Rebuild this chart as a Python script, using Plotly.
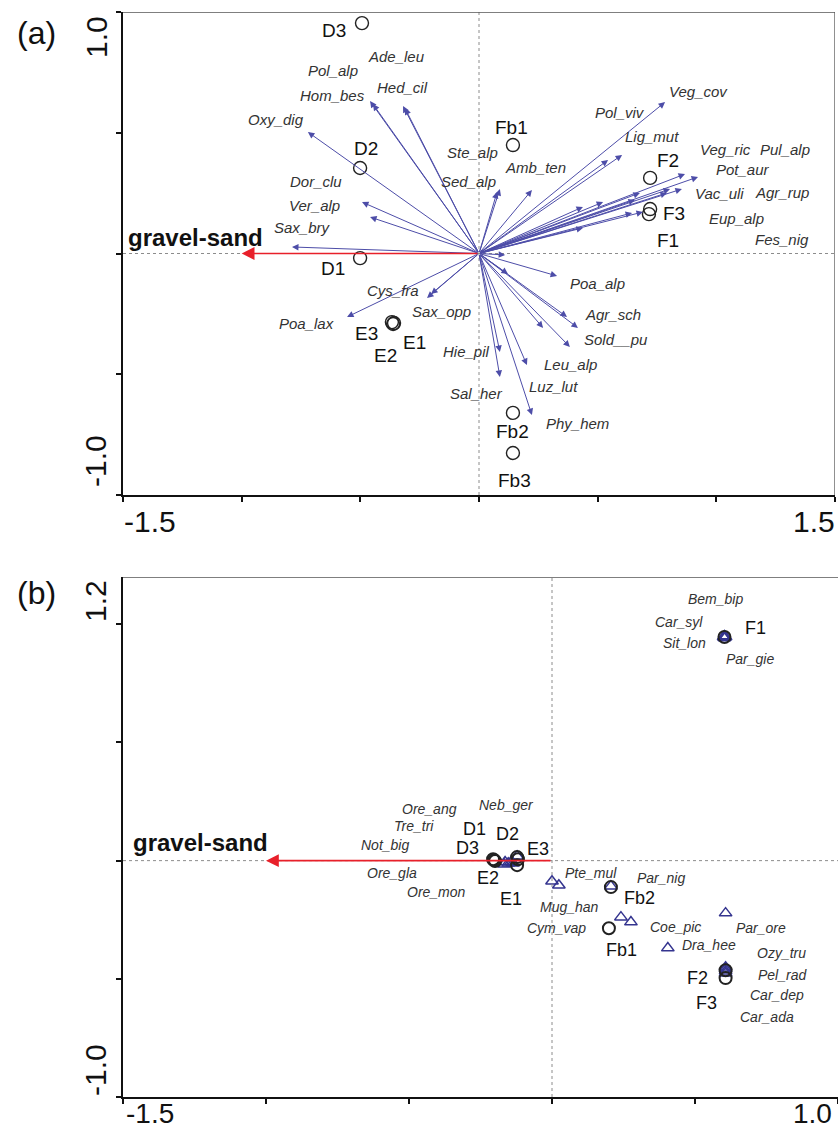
import plotly.graph_objects as go

W, H = 838, 1130

# ---------------- Panel (a) data ----------------
a_species = ["Oxy_dig", "Hom_bes", "Pol_alp", "Hed_cil", "Ade_leu", "Dor_clu", "Ver_alp", "Sax_bry",
             "Ste_alp", "Sed_alp", "Amb_ten", "Veg_cov", "Pol_viv", "Lig_mut", "Veg_ric", "Pot_aur",
             "Pul_alp", "Vac_uli", "Agr_rup", "Eup_alp", "Fes_nig", "Poa_lax", "Cys_fra", "Sax_opp",
             "Poa_alp", "Agr_sch", "Sold__pu", "Leu_alp", "Luz_lut", "Hie_pil", "Sal_her", "Phy_hem"]
a_species_x = [-0.721, -0.447, -0.459, -0.312, -0.320, -0.493, -0.459, -0.788,
               0.076, 0.088, 0.223, 0.784, 0.544, 0.603, 0.868, 0.923,
               0.855, 0.805, 0.792, 0.691, 0.645, -0.556, -0.202, -0.219,
               0.329, 0.417, 0.383, 0.270, 0.202, 0.088, 0.088, 0.223]
a_species_y = [0.503, 0.619, 0.631, 0.602, 0.611, 0.213, 0.151, 0.027,
               0.255, 0.267, 0.263, 0.627, 0.387, 0.408, 0.329, 0.317,
               0.267, 0.267, 0.251, 0.172, 0.168, -0.263, -0.168, -0.184,
               -0.093, -0.308, -0.387, -0.308, -0.462, -0.408, -0.511, -0.669]
# species arrows whose labels are not printed in the figure
a_unlabeled_x = [0.678, 0.657, 0.523, 0.438, 0.438, 0.110, 0.122, 0.371]
a_unlabeled_y = [0.251, 0.222, 0.213, 0.193, 0.106, -0.006, -0.085, -0.263]

a_samples = ["D3", "D2", "D1", "E3", "E2", "E1", "Fb1", "F2", "F3", "F1", "Fb2", "Fb3"]
a_samples_x = [-0.493, -0.501, -0.501, -0.367, -0.362, -0.358, 0.143, 0.721, 0.716, 0.721, 0.143, 0.143]
a_samples_y = [0.954, 0.354, -0.019, -0.284, -0.292, -0.288, 0.449, 0.313, 0.163, 0.184, -0.660, -0.826]

env_name = "gravel-sand"
a_env_x, a_env_y = -1.0, 0.0

# ---------------- Panel (b) data ----------------
b_samples = ["D1", "D3", "E2", "D2", "E3", "E1", "Fb2", "Fb1", "F1", "F2", "F3"]
b_samples_x = [-0.206, -0.199, -0.202, -0.122, -0.119, -0.122, 0.206, 0.199, 0.603, 0.607, 0.607]
b_samples_y = [0.006, -0.002, 0.002, 0.015, 0.006, -0.019, -0.112, -0.286, 0.946, -0.464, -0.497]

b_species = ["Ore_ang", "Tre_tri", "Not_big", "Ore_gla", "Ore_mon", "Neb_ger", "Pte_mul", "Mug_han",
             "Par_nig", "Cym_vap", "Coe_pic", "Par_ore", "Dra_hee", "Bem_bip", "Car_syl", "Sit_lon",
             "Par_gie", "Ozy_tru", "Pel_rad", "Car_dep", "Car_ada"]
b_species_x = [-0.143, -0.153, -0.164, -0.167, -0.136, -0.122, 0.000, 0.024,
               0.206, 0.241, 0.276, 0.607, 0.405, 0.603, 0.600, 0.603,
               0.607, 0.607, 0.607, 0.607, 0.607]
b_species_y = [-0.006, -0.011, -0.006, -0.015, -0.011, 0.019, -0.087, -0.104,
               -0.108, -0.239, -0.260, -0.222, -0.370, 0.950, 0.946, 0.942,
               0.946, -0.451, -0.459, -0.468, -0.476]
b_env_x, b_env_y = -1.0, 0.0

# ---------------- label offsets (pixels, layout only) ----------------
a_species_off = [(-32, -13), (-40, -9), (-37, -31), (-2, -21), (-7, -49), (-46, -21), (-56, -12), (11, -19),
                 (-25, -39), (-31, -8), (4, -22), (33, -11), (12, -48), (30, -18), (40, -25), (45, -7),
                 (103, -40), (49, 4), (115, 0), (93, 7), (150, 27), (-41, 6), (-38, -4), (14, 14),
                 (40, 8), (35, -13), (46, -7), (27, 37), (27, 21), (-33, -1), (-23, 17), (46, 8)]
a_samples_off = [(-28, 7), (6, -20), (-27, 10), (-25, 11), (-8, 31), (20, 19), (-1, -18), (18, -17),
                 (25, -1), (18, 31), (0, 19), (2, 28)]
b_samples_off = [(-19, -30), (-28, -13), (-6, 18), (-10, -23), (20, -10), (-6, 34), (29, 11), (13, 22),
                 (31, -9), (-28, 8), (-19, 25)]
b_species_off = [(-82, -53), (-94, -37), (-120, -17), (-112, 9), (-77, 29), (-11, -51), (39, -8), (11, 22),
                 (50, -8), (-64, 11), (45, 5), (35, 15), (41, -3), (-9, -37), (-45, -15), (-40, 5),
                 (24, 22), (56, -14), (57, 6), (51, 24), (41, 44)]

ARROW = "#4d4da8"
RED = "#e8202a"
NAVY = "#34348f"
FONT = "Liberation Sans, Arial, sans-serif"

fig = go.Figure()

# sample circles / species triangles
fig.add_trace(go.Scatter(x=a_samples_x, y=a_samples_y, mode="markers", xaxis="x", yaxis="y",
                         marker=dict(symbol="circle-open", size=13, color="#222", line=dict(width=1.4)),
                         hoverinfo="skip", showlegend=False))
fig.add_trace(go.Scatter(x=b_species_x, y=b_species_y, mode="markers", xaxis="x2", yaxis="y2",
                         marker=dict(symbol="triangle-up-open", size=11, color=NAVY, line=dict(width=1.5)),
                         hoverinfo="skip", showlegend=False))
fig.add_trace(go.Scatter(x=b_samples_x, y=b_samples_y, mode="markers", xaxis="x2", yaxis="y2",
                         marker=dict(symbol="circle-open", size=12, color="#222", line=dict(width=2)),
                         hoverinfo="skip", showlegend=False))

ann = []
shapes = []

def arrow(x, y, xr, yr, color, width, size):
    ann.append(dict(x=x, y=y, ax=0, ay=0, xref=xr, yref=yr, axref=xr, ayref=yr, text="",
                    showarrow=True, arrowhead=2, arrowsize=size, arrowwidth=width, arrowcolor=color,
                    standoff=0, startstandoff=0))

def label(txt, x, y, xr, yr, off, size, color, italic=False, bold=False):
    t = txt
    if italic:
        t = "<i>" + t + "</i>"
    if bold:
        t = "<b>" + t + "</b>"
    ann.append(dict(x=x, y=y, xref=xr, yref=yr, text=t, showarrow=False, xshift=off[0], yshift=-off[1],
                    xanchor="center", yanchor="middle", font=dict(family=FONT, size=size, color=color)))

# dotted zero lines
dot = dict(color="#8c8c8c", width=1, dash="dot")
shapes.append(dict(type="line", xref="x", yref="y", x0=-1.5, x1=1.5, y0=0, y1=0, line=dot))
shapes.append(dict(type="line", xref="x", yref="y", x0=0, x1=0, y0=-1, y1=1, line=dot))
shapes.append(dict(type="line", xref="x2", yref="y2", x0=-1.5, x1=1.0, y0=0, y1=0, line=dot))
shapes.append(dict(type="line", xref="x2", yref="y2", x0=0, x1=0, y0=-1.0, y1=1.2, line=dot))
# top / right frame
frame = dict(color="#555", width=1.3)
shapes.append(dict(type="line", xref="x", yref="y", x0=-1.5, x1=1.5, y0=1, y1=1, line=frame))
shapes.append(dict(type="line", xref="x", yref="y", x0=1.5, x1=1.5, y0=-1, y1=1, line=frame))
shapes.append(dict(type="line", xref="x2", yref="y2", x0=-1.5, x1=1.0, y0=1.2, y1=1.2, line=frame))

# arrows
for x, y in zip(a_unlabeled_x, a_unlabeled_y):
    arrow(x, y, "x", "y", ARROW, 1, 1.3)
for x, y in zip(a_species_x, a_species_y):
    arrow(x, y, "x", "y", ARROW, 1, 1.3)
arrow(a_env_x, a_env_y, "x", "y", RED, 1.6, 1.6)
arrow(b_env_x, b_env_y, "x2", "y2", RED, 1.6, 1.6)

for n, x, y, o in zip(a_species, a_species_x, a_species_y, a_species_off):
    label(n, x, y, "x", "y", o, 15, "#333", italic=True)
for n, x, y, o in zip(a_samples, a_samples_x, a_samples_y, a_samples_off):
    label(n, x, y, "x", "y", o, 19, "#111")
label(env_name, a_env_x, a_env_y, "x", "y", (-46, -16), 24, "#111", bold=True)

for n, x, y, o in zip(b_species, b_species_x, b_species_y, b_species_off):
    label(n, x, y, "x2", "y2", o, 14, "#333", italic=True)
for n, x, y, o in zip(b_samples, b_samples_x, b_samples_y, b_samples_off):
    label(n, x, y, "x2", "y2", o, 18, "#111")
label(env_name, b_env_x, b_env_y, "x2", "y2", (-66, -18), 24, "#111", bold=True)

# panel letters and end tick labels
def ptext(txt, px, py, size, angle=0, yanchor="middle"):
    ann.append(dict(x=px / W, y=1 - py / H, xref="paper", yref="paper", text=txt, showarrow=False,
                    xanchor="center", yanchor=yanchor, textangle=angle, borderpad=0,
                    font=dict(family=FONT, size=size, color="#111")))

ptext("(a)", 36, 33, 32)
ptext("1.0", 96, 37, 30, -90)
ptext("-1.0", 96, 461, 30, -90)
ptext("-1.5", 150, 521, 30)
ptext("1.5", 814, 521, 30)
ptext("(b)", 36, 593, 32)
ptext("1.2", 95, 601, 30, -90)
ptext("-1.0", 95, 1070, 30, -90)
ptext("-1.5", 150, 1130, 28, yanchor="bottom")
ptext("1.0", 812, 1130, 28, yanchor="bottom")

axis_common = dict(showgrid=False, zeroline=False, showticklabels=False, ticks="outside", ticklen=5,
                   tickwidth=1.5, tickcolor="#111", showline=True, linecolor="#111", linewidth=2)

fig.update_layout(
    width=W, height=H, margin=dict(l=0, r=0, t=0, b=0),
    paper_bgcolor="white", plot_bgcolor="white", showlegend=False,
    xaxis=dict(domain=[123 / W, 835 / W], range=[-1.5, 1.5], anchor="y",
               tickvals=[-1.5, -1.0, -0.5, 0, 0.5, 1.0, 1.5], **axis_common),
    yaxis=dict(domain=[1 - 495 / H, 1 - 12 / H], range=[-1, 1], anchor="x",
               tickvals=[-1.0, -0.5, 0, 0.5, 1.0], **axis_common),
    xaxis2=dict(domain=[123 / W, 1.0], range=[-1.5, 1.0], anchor="y2",
                tickvals=[-1.5, -1.0, -0.5, 0, 0.5, 1.0], **axis_common),
    yaxis2=dict(domain=[1 - 1097 / H, 1 - 577 / H], range=[-1.0, 1.2], anchor="x2",
                tickvals=[-1.0, -0.5, 0, 0.5, 1.0], **axis_common),
    annotations=ann, shapes=shapes,
)

fig.write_html("out.html")
